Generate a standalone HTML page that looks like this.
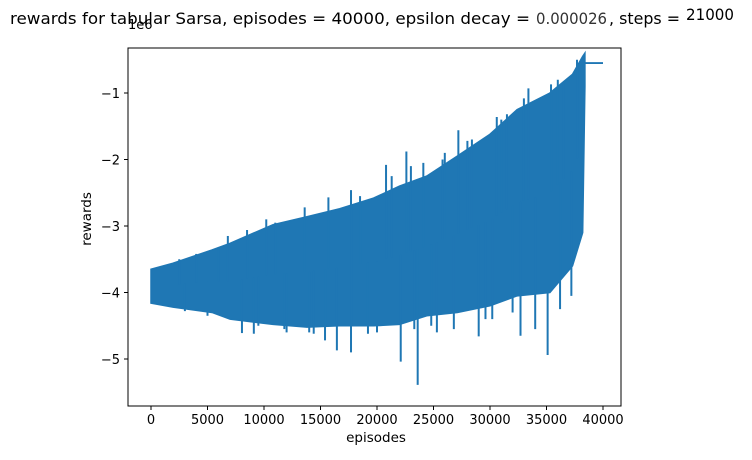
<!DOCTYPE html>
<html><head><meta charset="utf-8"><style>
body{margin:0;background:#fff}
svg{font-family:"DejaVu Sans","Liberation Sans",sans-serif}
</style></head><body>
<svg id="chart" width="752" height="455">
<text x="10" y="24" font-size="16" textLength="520" lengthAdjust="spacingAndGlyphs">rewards for tabular Sarsa, episodes = 40000, epsilon decay = </text>
<text x="536" y="24" font-size="16" fill="#333" textLength="71" lengthAdjust="spacingAndGlyphs">0.000026</text>
<text x="609" y="24" font-size="16" textLength="71" lengthAdjust="spacingAndGlyphs">, steps =</text>
<text x="686" y="20" font-size="16" textLength="48" lengthAdjust="spacingAndGlyphs">21000</text>
<text x="128" y="29" font-size="13">1e6</text>
<g id="plot"></g>
<rect x="128" y="48" width="493" height="358" fill="none" stroke="#000" stroke-width="1"/>
<g id="xt"></g>
<g id="yt"></g>
<text x="376" y="442" font-size="13.5" text-anchor="middle">episodes</text>
<text transform="translate(91,219) rotate(-90)" font-size="13.5" text-anchor="middle">rewards</text>
</svg>
<script>
const episodes=[0,1950,5400,7000,10800,13800,16700,19700,22000,24400,27100,30000,32400,35300,37300,38200,38400];
const upper=[-3.65,-3.56,-3.36,-3.26,-2.98,-2.86,-2.74,-2.58,-2.4,-2.25,-1.95,-1.62,-1.25,-1.0,-0.72,-0.45,-0.4];
const lower=[-4.16,-4.22,-4.3,-4.4,-4.48,-4.52,-4.5,-4.5,-4.48,-4.35,-4.3,-4.2,-4.05,-4.0,-3.6,-3.1,-0.9];
const spikeEp=[8050,9100,15400,16450,17700,22100,23600,26800,29000,32700,35100,37200,12000,14400,19200,25300,30200,34000,
 8500,13600,15700,17700,20800,22600,24100,27200,30600,33400,35400,4000,6000,11000,18500,25800,28400,31500,36500,
 2500,6800,10200,21300,23000,26000,28000,31000,33000,36000,37700,
 3000,5000,9500,11800,14000,20000,23300,24800,29600,32000,36200];
const spikeVal=[-4.61,-4.62,-4.72,-4.87,-4.9,-5.04,-5.39,-4.55,-4.66,-4.65,-4.94,-4.05,-4.6,-4.62,-4.62,-4.6,-4.4,-4.55,
 -3.06,-2.72,-2.57,-2.46,-2.08,-1.88,-2.05,-1.56,-1.36,-0.93,-0.87,-3.42,-3.32,-2.95,-2.55,-2.0,-1.7,-1.32,-0.85,
 -3.5,-3.15,-2.9,-2.25,-2.1,-1.9,-1.72,-1.4,-1.08,-0.8,-0.5,
 -4.28,-4.35,-4.5,-4.55,-4.6,-4.6,-4.55,-4.5,-4.4,-4.3,-4.25];
const tailEp=[38400,40000];
const tailVal=[-0.55,-0.55];
const xTicks=[0,5000,10000,15000,20000,25000,30000,35000,40000];
const yTicks=[-1,-2,-3,-4,-5];
const X=v=>151+v*(452/40000);
const Y=v=>93+(-1-v)*66.5;
const NS="http://www.w3.org/2000/svg";
const plot=document.getElementById('plot');
const C="#1f77b4";
let pts=episodes.map((e,i)=>X(e)+','+Y(upper[i]));
for(let i=episodes.length-1;i>=0;i--)pts.push(X(episodes[i])+','+Y(lower[i]));
const band=document.createElementNS(NS,'polygon');
band.setAttribute('points',pts.join(' '));band.setAttribute('fill',C);band.setAttribute('stroke',C);band.setAttribute('stroke-width','1.5');


plot.appendChild(band);
function interp(arr,e){let k=0;while(k<episodes.length-2&&episodes[k+1]<e)k++;const t=(e-episodes[k])/(episodes[k+1]-episodes[k]);return arr[k]+(arr[k+1]-arr[k])*t;}
spikeEp.forEach((e,i)=>{
 const mid=(interp(upper,e)+interp(lower,e))/2;
 const l=document.createElementNS(NS,'line');
 l.setAttribute('x1',X(e));l.setAttribute('x2',X(e));l.setAttribute('y1',Y(mid));l.setAttribute('y2',Y(spikeVal[i]));
 l.setAttribute('stroke',C);l.setAttribute('stroke-width','2');
 
 
 plot.appendChild(l);
});
const tail=document.createElementNS(NS,'polyline');
tail.setAttribute('points',tailEp.map((e,i)=>X(e)+','+Y(tailVal[i])).join(' '));
tail.setAttribute('fill','none');tail.setAttribute('stroke',C);tail.setAttribute('stroke-width','1.8');


plot.appendChild(tail);
const xt=document.getElementById('xt');
xTicks.forEach(v=>{
 const l=document.createElementNS(NS,'line');
 l.setAttribute('x1',X(v));l.setAttribute('x2',X(v));l.setAttribute('y1',406);l.setAttribute('y2',410);l.setAttribute('stroke','#000');
 
 
 xt.appendChild(l);
 const t=document.createElementNS(NS,'text');
 t.setAttribute('x',X(v));t.setAttribute('y',424);t.setAttribute('font-size','13');t.setAttribute('text-anchor','middle');t.textContent=v;
 
 
 xt.appendChild(t);
});
const yt=document.getElementById('yt');
yTicks.forEach(v=>{
 const l=document.createElementNS(NS,'line');
 l.setAttribute('x1',124);l.setAttribute('x2',128);l.setAttribute('y1',Y(v));l.setAttribute('y2',Y(v));l.setAttribute('stroke','#000');
 
 
 yt.appendChild(l);
 const t=document.createElementNS(NS,'text');
 t.setAttribute('x',120);t.setAttribute('y',Y(v)+5);t.setAttribute('font-size','13');t.setAttribute('text-anchor','end');t.textContent='\u2212'+Math.abs(v);
 
 
 yt.appendChild(t);
});
</script>
</body></html>
